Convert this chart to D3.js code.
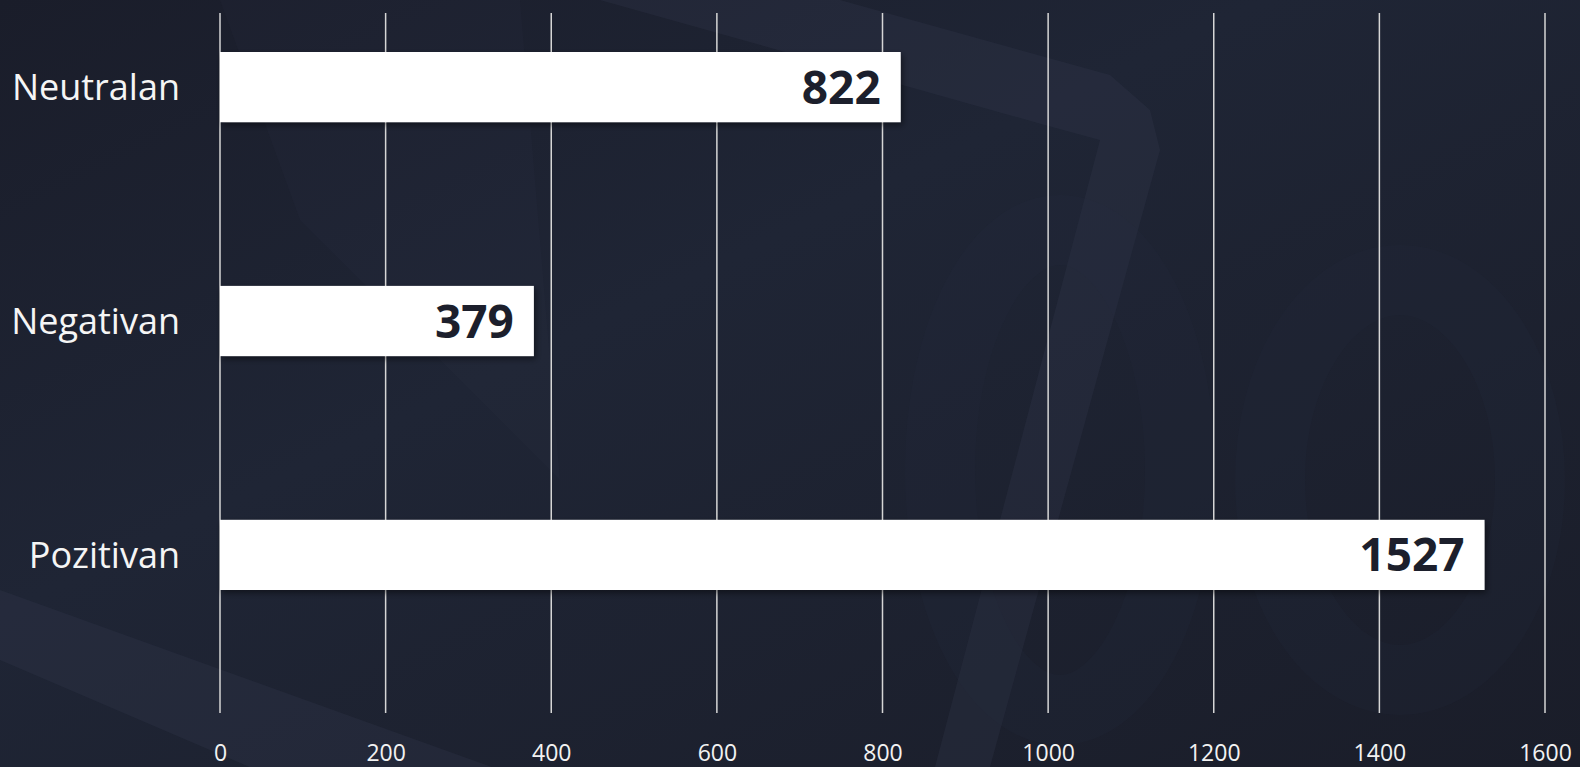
<!DOCTYPE html>
<html>
<head>
<meta charset="utf-8">
<script src="https://cdn.jsdelivr.net/npm/d3@7"></script>
<style>
  html, body { margin: 0; padding: 0; background: #1b1e2b; overflow: hidden; }
  svg { display: block; }
</style>
</head>
<body>
<svg></svg>
<script>
const categories = ["Neutralan", "Negativan", "Pozitivan"];
const values = [822, 379, 1527];
const ticks = [0, 200, 400, 600, 800, 1000, 1200, 1400, 1600];

const w = 1580;
const h = 767;
const font = "'Open Sans', 'Noto Sans', sans-serif";

const svg = d3.select("svg").attr("width", w).attr("height", h);

// background
const defs = svg.append("defs");
const bg = defs
  .append("linearGradient")
  .attr("id", "bg")
  .attr("x1", "0%")
  .attr("y1", "0%")
  .attr("x2", "100%")
  .attr("y2", "100%");
bg.append("stop").attr("offset", "0%").attr("stop-color", "#1a1d2a");
bg.append("stop").attr("offset", "40%").attr("stop-color", "#1f2535");
bg.append("stop").attr("offset", "100%").attr("stop-color", "#1a1d29");

const shadow = defs.append("filter").attr("id", "shadow").attr("x", "-5%").attr("y", "-20%").attr("width", "110%").attr("height", "150%");
shadow
  .append("feDropShadow")
  .attr("dx", 2)
  .attr("dy", 3)
  .attr("stdDeviation", 3)
  .attr("flood-color", "#000")
  .attr("flood-opacity", 0.45);

svg.append("rect").attr("width", w).attr("height", h).attr("fill", "url(#bg)");

// faint watermark shapes
const shapes = [
  [[600, 0], [840, 0], [1110, 75], [1150, 110], [1160, 150], [990, 767], [935, 767], [1100, 140], [1045, 125]],
  [[0, 590], [700, 842], [700, 960], [0, 660]],
  [[220, 0], [520, 0], [560, 480], [300, 220]],
];
svg
  .append("g")
  .selectAll("path")
  .data(shapes)
  .enter()
  .append("path")
  .attr("d", (d) => d3.line()(d) + "Z")
  .attr("fill", "#3a4256")
  .attr("opacity", (d, i) => (i === 2 ? 0.08 : 0.22));

svg
  .append("g")
  .selectAll("ellipse")
  .data([[1400, 480, 130, 200], [1060, 470, 120, 240]])
  .enter()
  .append("ellipse")
  .attr("cx", (d) => d[0])
  .attr("cy", (d) => d[1])
  .attr("rx", (d) => d[2])
  .attr("ry", (d) => d[3])
  .attr("fill", "none")
  .attr("stroke", "#2a3042")
  .attr("stroke-width", 70)
  .attr("opacity", 0.15);

// scales
const xScale = d3.scaleLinear().domain([0, 1600]).range([220, 1545]);
const yScale = d3
  .scaleBand()
  .domain(categories)
  .range([52, 590])
  .paddingInner(0.7)
  .paddingOuter(0);

// gridlines
svg
  .append("g")
  .selectAll("line")
  .data(ticks)
  .enter()
  .append("line")
  .attr("x1", (d) => xScale(d))
  .attr("x2", (d) => xScale(d))
  .attr("y1", 13)
  .attr("y2", 713)
  .attr("stroke", "#d6d6d6")
  .attr("stroke-width", 1.5);

// x axis labels
const xAxis = svg
  .append("g")
  .attr("transform", "translate(0,753)")
  .call(d3.axisBottom(xScale).tickValues(ticks).tickSize(0).tickPadding(0).tickFormat(d3.format("d")));
xAxis.select(".domain").remove();
xAxis
  .selectAll("text")
  .attr("fill", "#f2f2f2")
  .attr("font-family", font)
  .attr("font-size", 23)
  .attr("dy", "0.35em");

// y axis labels
const yAxis = svg
  .append("g")
  .attr("transform", "translate(180,0)")
  .call(d3.axisLeft(yScale).tickSize(0).tickPadding(0));
yAxis.select(".domain").remove();
yAxis
  .selectAll("text")
  .attr("fill", "#f5f5f5")
  .attr("font-family", font)
  .attr("font-size", 36)
  .attr("dy", "0.36em");

// bars
const bars = svg
  .append("g")
  .selectAll("g")
  .data(categories)
  .enter()
  .append("g");

bars
  .append("rect")
  .attr("x", xScale(0))
  .attr("y", (d) => yScale(d))
  .attr("width", (d, i) => xScale(values[i]) - xScale(0))
  .attr("height", yScale.bandwidth())
  .attr("fill", "#ffffff")
  .attr("filter", "url(#shadow)");

bars
  .append("text")
  .attr("x", (d, i) => xScale(values[i]) - 20)
  .attr("y", (d) => yScale(d) + yScale.bandwidth() / 2)
  .attr("dy", "0.36em")
  .attr("text-anchor", "end")
  .attr("fill", "#1c1f2c")
  .attr("font-family", font)
  .attr("font-weight", "bold")
  .attr("font-size", 46)
  .text((d, i) => values[i]);
</script>
</body>
</html>
